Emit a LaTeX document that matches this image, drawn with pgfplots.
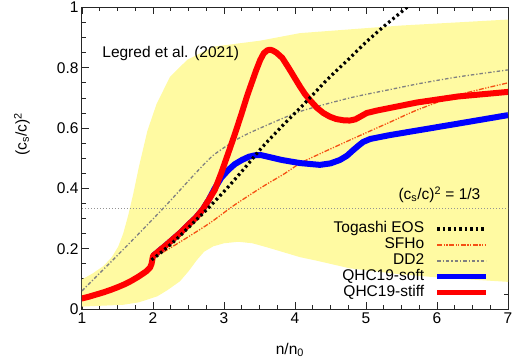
\documentclass[border=0pt]{standalone}
\usepackage{fontspec}
\setmainfont{Liberation Sans}
\usepackage{pgfplots}
\pgfplotsset{compat=1.18}
\definecolor{band}{RGB}{255,250,162}
\definecolor{sfho}{RGB}{245,80,20}
\definecolor{dd2}{RGB}{128,128,128}
\definecolor{qblue}{RGB}{0,0,255}
\definecolor{qred}{RGB}{255,0,0}
\newcommand{\fs}{\fontsize{15.5bp}{18bp}\selectfont}
\begin{document}
\begin{tikzpicture}
\begin{axis}[name=ax, at={(0,0)}, anchor=south west,
  scale only axis, width=426bp, height=301.5bp,
  xmin=1, xmax=7, ymin=0, ymax=1,
  xtick={1,2,3,4,5,6,7}, ytick={0,0.2,0.4,0.6,0.8,1},
  minor x tick num=3, minor y tick num=3,
  tick align=inside, major tick length=7bp, minor tick length=4bp,
  axis line style={line width=1bp, black!85},
  every tick/.style={line width=0.8bp, black!85},
  ticklabel style={font=\fs},
  /pgf/number format/assume math mode=true,
  xlabel={n/n\textsubscript{0}},
  ylabel={(c\textsubscript{s}/c)\textsuperscript{2}},
  label style={font=\fs},
  xlabel style={at={(axis description cs:0.488,-0.136)}, anchor=center},
  ylabel style={at={(axis description cs:-0.141,0.58)}, anchor=center},
  legend plot pos=right,
  legend cell align=right,
  legend style={at={(axis description cs:0.955,0.292)}, anchor=north east,
    draw=none, fill=none, font=\fs, inner sep=0pt, row sep=0.5bp,
    nodes={inner sep=0.5bp, text height=11bp, text depth=3.5bp},
    /tikz/every odd column/.append style={column sep=10bp}},
  legend image code/.code={\draw[#1] (0bp,0bp) -- (49bp,0bp);},
]
\addlegendimage{black, line width=3.2bp, dash pattern=on 2.5bp off 3bp}
\addlegendentry{Togashi EOS}
\addlegendimage{sfho, line width=1.3bp, dash pattern=on 5bp off 1.5bp on 1.2bp off 1.5bp on 1.2bp off 1.5bp}
\addlegendentry{SFHo}
\addlegendimage{dd2, line width=1.3bp, dash pattern=on 3.5bp off 2bp on 1.2bp off 2bp}
\addlegendentry{DD2}
\addlegendimage{qblue, line width=5bp}
\addlegendentry{QHC19-soft}
\addlegendimage{qred, line width=5bp}
\addlegendentry{QHC19-stiff}

% Legred et al. band
\addplot[draw=none, fill=band, forget plot] coordinates {
 (1,0.098) (1.15,0.118) (1.3,0.142) (1.42,0.172) (1.51,0.207) (1.58,0.25)
 (1.65,0.31) (1.72,0.38) (1.8,0.47) (1.92,0.59) (2.05,0.68) (2.24,0.77)
 (2.48,0.826) (2.85,0.87) (3.51,0.89) (4.07,0.915) (5.48,0.94) (7,0.96)
 (7,0.09) (6,0.105) (5.48,0.115) (4.77,0.135) (4.31,0.16) (4.07,0.172)
 (3.6,0.205) (3.4,0.218) (3.2,0.223) (3.0,0.218) (2.85,0.208) (2.72,0.19)
 (2.62,0.163) (2.5,0.125) (2.38,0.092) (2.2,0.062) (2.06,0.042) (1.8,0.022)
 (1.58,0.014) (1,0.008)
} -- cycle;

% 1/3 line
\addplot[dd2!85, line width=1.1bp, dash pattern=on 1.2bp off 1.8bp, forget plot]
 coordinates {(1,0.3333) (7,0.3333)};

% DD2
\addplot[dd2, line width=1.3bp, smooth, tension=0.4, dash pattern=on 3.5bp off 2bp on 1.2bp off 2bp, forget plot] coordinates {
 (1,0.06) (1.58,0.197) (2.14,0.333) (2.59,0.448) (2.85,0.51)
 (3.2,0.565) (3.51,0.60) (4.07,0.655) (4.77,0.70) (5.34,0.728) (5.76,0.748)
 (6.3,0.77) (7,0.793)};

% SFHo
\addplot[sfho, line width=1.3bp, smooth, tension=0.4, dash pattern=on 5bp off 1.5bp on 1.2bp off 1.5bp on 1.2bp off 1.5bp, forget plot] coordinates {
 (2.0,0.168) (2.4,0.225) (2.8,0.285) (3.13,0.342) (3.54,0.405) (3.86,0.45)
 (4.11,0.488) (4.77,0.56) (5.34,0.62) (5.72,0.66) (6.3,0.71) (7,0.75)};

% QHC19-soft
\addplot[qblue, line width=6bp, line join=round, forget plot] coordinates {
 (2.0,0.176) (2.2,0.215) (2.38,0.252) (2.5,0.28) (2.6,0.302) (2.7,0.33)
 (2.78,0.36) (2.87,0.40) (2.96,0.435)
 (3.06,0.461) (3.15,0.48) (3.25,0.494) (3.35,0.505) (3.44,0.51) (3.53,0.51)
 (3.62,0.505) (3.82,0.494) (4.07,0.484) (4.35,0.478) (4.5,0.483) (4.63,0.494)
 (4.73,0.508) (4.82,0.527) (4.9,0.543) (4.96,0.554) (5.06,0.564) (5.34,0.577)
 (5.72,0.592) (6.3,0.615) (7,0.643)};

% QHC19-stiff
\addplot[qred, line width=6bp, line cap=round, line join=round, forget plot] coordinates {
 (1,0.035) (1.1,0.041) (1.2,0.048) (1.3,0.055) (1.4,0.063) (1.5,0.072)
 (1.6,0.082) (1.7,0.094) (1.8,0.108) (1.9,0.124) (1.96,0.138) (1.98,0.15)
 (2.0,0.176) (2.2,0.215) (2.38,0.252) (2.5,0.28) (2.6,0.302) (2.7,0.33)
 (2.78,0.36) (2.87,0.395) (2.96,0.45)
 (3.06,0.517) (3.16,0.585) (3.25,0.65) (3.33,0.71) (3.39,0.75) (3.45,0.79)
 (3.51,0.826) (3.56,0.848) (3.61,0.858) (3.65,0.86) (3.69,0.857) (3.74,0.85)
 (3.82,0.833) (3.91,0.80) (4.0,0.765) (4.07,0.738) (4.14,0.713) (4.22,0.69)
 (4.31,0.667) (4.4,0.65) (4.49,0.638) (4.58,0.63) (4.68,0.626) (4.77,0.625)
 (4.85,0.629) (4.92,0.638) (5.01,0.65) (5.15,0.658) (5.34,0.667) (5.72,0.685)
 (6.3,0.705) (7,0.72)};

% Togashi EOS
\addplot[black, line width=3.2bp, smooth, tension=0.4, dash pattern=on 2.5bp off 3bp, forget plot] coordinates {
 (1.98,0.163) (2.1,0.185) (2.3,0.225) (2.56,0.284) (2.8,0.34) (3.06,0.405)
 (3.3,0.47) (3.54,0.537) (3.84,0.612) (4.14,0.683) (4.45,0.76) (4.77,0.832)
 (5.0,0.885) (5.24,0.935) (5.42,0.97) (5.6,1.005)};

\node[font=\fs] at (axis cs:2.25,0.849) {Legred et al. (2021)};
\node[font=\fs, anchor=east] at (axis cs:6.66,0.378) {(c\textsubscript{s}/c)\textsuperscript{2} = 1/3};
\end{axis}
\pgfresetboundingbox
\path ([shift={(-82bp,-54bp)}]ax.south west) rectangle ([shift={(5bp,7.5bp)}]ax.north east);
\end{tikzpicture}
\end{document}
